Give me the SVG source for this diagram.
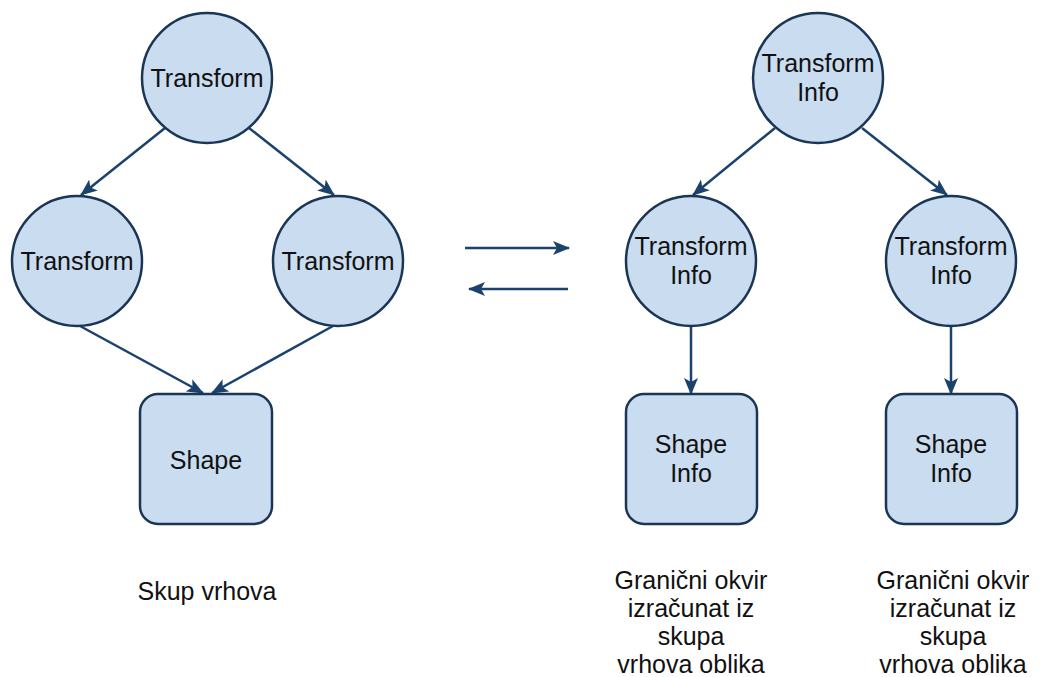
<svg xmlns="http://www.w3.org/2000/svg" width="1047" height="677" viewBox="0 0 1047 677">
<defs>
<style>
.n{fill:#cadcf0;stroke:#1b3655;stroke-width:2.5}
.t{font-family:"Liberation Sans",Arial,sans-serif;font-size:25px;fill:#111;text-anchor:middle}
.c{stroke:#1b426c;stroke-width:2.5;fill:none;marker-end:url(#ah)}
</style>
<marker id="ah" markerUnits="userSpaceOnUse" markerWidth="17" markerHeight="14" refX="16" refY="7" orient="auto">
<path d="M0,0 L17,7 L0,14 L4,7 Z" fill="#1b426c"/>
</marker>
</defs>
<rect width="1047" height="677" fill="#fff"/>
<g id="connectors">
<line class="c" x1="165" y1="128" x2="81" y2="195"/>
<line class="c" x1="249" y1="128" x2="334" y2="195"/>
<line class="c" x1="80" y1="326" x2="203" y2="393"/>
<line class="c" x1="333" y1="326" x2="212" y2="393"/>
<line class="c" x1="465" y1="248" x2="569" y2="248"/>
<line class="c" x1="568" y1="289" x2="469" y2="289"/>
<line class="c" x1="775" y1="128" x2="693" y2="195"/>
<line class="c" x1="862" y1="128" x2="947" y2="195"/>
<line class="c" x1="691" y1="327" x2="691" y2="394"/>
<line class="c" x1="951" y1="327" x2="951" y2="394"/>
</g>
<g id="n1"><circle class="n" cx="207" cy="78" r="65"/><text class="t" x="207" y="87">Transform</text></g>
<g id="n2"><circle class="n" cx="77" cy="261" r="65"/><text class="t" x="77" y="270">Transform</text></g>
<g id="n3"><circle class="n" cx="338" cy="261" r="65"/><text class="t" x="338" y="270">Transform</text></g>
<g id="n4"><rect class="n" x="140" y="394" width="132" height="130" rx="18"/><text class="t" x="206" y="469">Shape</text></g>
<g id="n5"><circle class="n" cx="818" cy="78" r="65"/><text class="t" x="818" y="72">Transform</text><text class="t" x="818" y="101">Info</text></g>
<g id="n6"><circle class="n" cx="691" cy="261" r="65"/><text class="t" x="691" y="255">Transform</text><text class="t" x="691" y="284">Info</text></g>
<g id="n7"><circle class="n" cx="951" cy="261" r="65"/><text class="t" x="951" y="255">Transform</text><text class="t" x="951" y="284">Info</text></g>
<g id="n8"><rect class="n" x="626" y="394" width="131" height="130" rx="18"/><text class="t" x="691" y="453">Shape</text><text class="t" x="691" y="482">Info</text></g>
<g id="n9"><rect class="n" x="886" y="394" width="131" height="130" rx="18"/><text class="t" x="951" y="453">Shape</text><text class="t" x="951" y="482">Info</text></g>
<g id="labels">
<text class="t" x="207" y="600">Skup vrhova</text>
<text class="t" x="691" y="589">Granični okvir</text>
<text class="t" x="691" y="617">izračunat iz</text>
<text class="t" x="691" y="645">skupa</text>
<text class="t" x="691" y="673">vrhova oblika</text>
<text class="t" x="953" y="589">Granični okvir</text>
<text class="t" x="953" y="617">izračunat iz</text>
<text class="t" x="953" y="645">skupa</text>
<text class="t" x="953" y="673">vrhova oblika</text>
</g>
</svg>
